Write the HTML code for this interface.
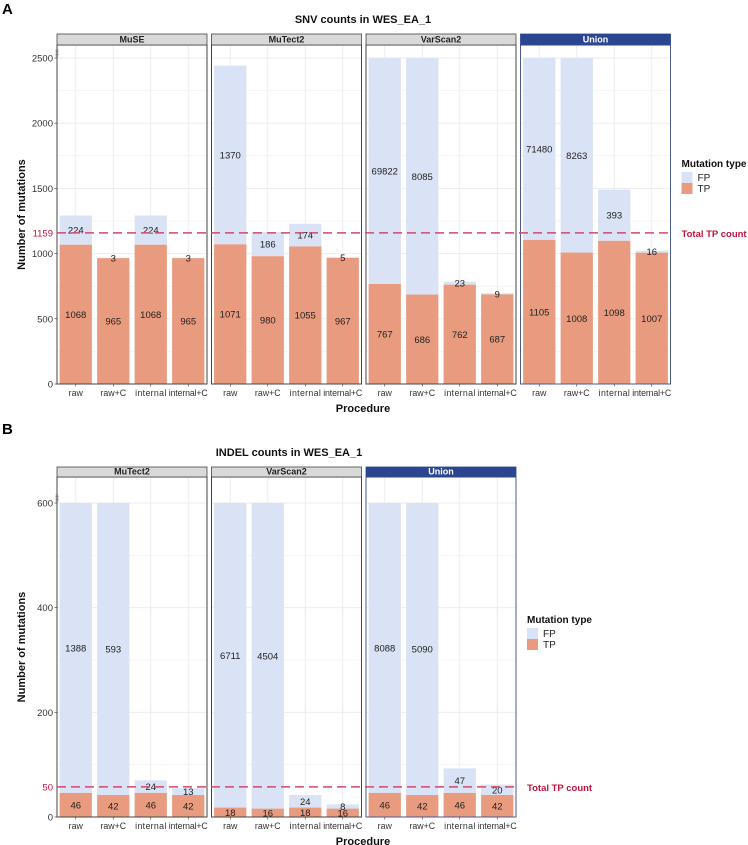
<!DOCTYPE html>
<html><head><meta charset="utf-8">
<style>
html,body{margin:0;padding:0;background:#fff;}
svg{display:block;font-family:"Liberation Sans",Arial,sans-serif;}
</style></head>
<body>
<svg id="fig" width="748" height="845" viewBox="0 0 748 845"></svg>
<script>
const procedures = ['raw','raw+C','internal','internal+C'];
const snvPanels = ['MuSE','MuTect2','VarScan2','Union'];
const snvTP = [[1068,965,1068,965],[1071,980,1055,967],[767,686,762,687],[1105,1008,1098,1007]];
const snvFP = [[224,3,224,3],[1370,186,174,5],[69822,8085,23,9],[71480,8263,393,16]];
const snvTicks = [0,500,1000,1500,2000,2500];
const snvTotalTP = 1159;
const indelPanels = ['MuTect2','VarScan2','Union'];
const indelTP = [[46,42,46,42],[18,16,18,16],[46,42,46,42]];
const indelFP = [[1388,593,24,13],[6711,4504,24,8],[8088,5090,47,20]];
const indelTicks = [0,200,400,600];
const indelTotalTP = 50;

const NS='http://www.w3.org/2000/svg';
const svg=document.getElementById('fig');
function mk(tag,attrs,parent,text){
  const e=document.createElementNS(NS,tag);
  for(const k in attrs)e.setAttribute(k,attrs[k]);
  if(text!==undefined)e.textContent=text;
  (parent||svg).appendChild(e);return e;
}

function drawChart(o){
  const g=mk('g',{});
  
  
  const yScale=v=>o.y0-(Math.min(v,o.cap))*(o.y0-o.yCap)/o.cap;
  const L=mk('text',{x:2,y:o.letterY,'font-size':15,'font-weight':'bold',fill:'#000'},g,o.letter);
  
  const T=mk('text',{x:o.titleX,y:o.titleY,'font-size':11,'font-weight':'bold','text-anchor':'middle',fill:'#111'},g,o.title);
  
  const pw=150,gap=4.5;
  o.panels.forEach((pn,pi)=>{
    const px=o.x0+pi*(pw+gap);
    const pg=mk('g',{},g);
    
    
    const isU=pn==='Union';
    const minor=o.ticks[1]/2;
    for(let v=0;v<=o.cap+0.1;v+=minor){
      mk('line',{x1:px,x2:px+pw,y1:yScale(v),y2:yScale(v),stroke:'#ebebeb','stroke-width':(v%o.ticks[1]===0)?0.9:0.5},pg);
    }
    const cw=pw/4;
    procedures.forEach((pr,ci)=>{
      const cx=px+cw*ci+cw/2;
      mk('line',{x1:cx,x2:cx,y1:o.stripB,y2:o.y0,stroke:'#ebebeb','stroke-width':0.9},pg);
    });
    procedures.forEach((pr,ci)=>{
      const cx=px+cw*ci+cw/2, bw=cw*0.86;
      const tp=o.tp[pi][ci], fp=o.fp[pi][ci];
      const yT=yScale(tp), yF=yScale(tp+fp);
      const rf=mk('rect',{x:cx-bw/2,y:yF,width:bw,height:yT-yF,fill:'#dae3f5'},pg);
      
      
      const rt=mk('rect',{x:cx-bw/2,y:yT,width:bw,height:o.y0-yT,fill:'#e89b7e'},pg);
      
      
      const lf=mk('text',{x:cx,y:(yT+yF)/2+3.5,'font-size':9.5,'text-anchor':'middle',fill:'#222'},pg,fp);
      
      const lt=mk('text',{x:cx,y:(yT+o.y0)/2+3.5,'font-size':9.5,'text-anchor':'middle',fill:'#222'},pg,tp);
      
      const xt=mk('text',{x:cx,y:o.y0+12,'font-size':8.8,'text-anchor':'middle',fill:'#333'},pg,pr);
      if(pr.length>5)xt.setAttribute('textLength',pr.length*3.9);
      
      mk('line',{x1:cx,x2:cx,y1:o.y0,y2:o.y0+2.5,stroke:'#333','stroke-width':0.6},pg);
    });
    const bc=isU?'#4a5a8f':'#444';
    mk('rect',{x:px,y:o.stripB,width:pw,height:o.y0-o.stripB,fill:'none',stroke:bc,'stroke-width':1},pg);
    const st=mk('rect',{x:px,y:o.stripT,width:pw,height:o.stripB-o.stripT,fill:isU?'#2c4591':'#d9d9d9',stroke:isU?'#2c4591':'#444','stroke-width':0.8},pg);
    
    const sl=mk('text',{x:px+pw/2,y:o.stripB-2.5,'font-size':9,'font-weight':'bold','text-anchor':'middle',fill:isU?'#fff':'#222'},pg,pn);
    
  });
  const xEnd=o.x0+o.panels.length*(pw+gap)-gap;
  o.ticks.forEach(v=>{
    const t=mk('text',{x:o.x0-4,y:yScale(v)+3.5,'font-size':9.5,'text-anchor':'end',fill:'#333'},g,v);
    
    mk('line',{x1:o.x0-2.5,x2:o.x0,y1:yScale(v),y2:yScale(v),stroke:'#333','stroke-width':0.6},g);
  });
  for(let i=0;i<5;i++)mk('line',{x1:o.x0-1.5,x2:o.x0+1.5,y1:o.yCap-8+i*1.5,y2:o.yCap-8+i*1.5,stroke:'#555','stroke-width':0.5},g);
  const yl=yScale(o.total)-o.lineShift;
  const dl=mk('line',{x1:o.x0,x2:xEnd,y1:yl,y2:yl,stroke:'#d2486a','stroke-width':1.5,'stroke-dasharray':'9,5'},g);
  
  const tl=mk('text',{x:o.x0-4,y:yl+3.5,'font-size':9.5,'text-anchor':'end',fill:'#c0143c'},g,o.total);
  
  const tt=mk('text',{x:xEnd+11,y:yl+4,'font-size':9.5,'font-weight':'bold',fill:'#c0143c'},g,'Total TP count');
  
  const ya=mk('text',{x:0,y:0,'font-size':11,'font-weight':'bold','text-anchor':'middle',fill:'#111',transform:`translate(25,${(o.stripB+o.y0)/2}) rotate(-90)`},g,'Number of mutations');
  
  const xa=mk('text',{x:363,y:o.y0+28,'font-size':11,'font-weight':'bold','text-anchor':'middle',fill:'#111'},g,'Procedure');
  
  const lg=mk('g',{},g);
  
  mk('text',{x:xEnd+11,y:o.legY,'font-size':10,'font-weight':'bold',fill:'#111'},lg,'Mutation type');
  const e1=mk('rect',{x:xEnd+11,y:o.legY+5,width:11,height:11,fill:'#dae3f5'},lg);
  
  mk('text',{x:xEnd+27,y:o.legY+14,'font-size':10,fill:'#222'},lg,'FP');
  const e2=mk('rect',{x:xEnd+11,y:o.legY+16,width:11,height:11,fill:'#e89b7e'},lg);
  
  mk('text',{x:xEnd+27,y:o.legY+25,'font-size':10,fill:'#222'},lg,'TP');
}

drawChart({name:'snv-chart',letter:'A',letterY:14,title:'SNV counts in WES_EA_1',titleX:363,titleY:23,
  panels:snvPanels,tp:snvTP,fp:snvFP,ticks:snvTicks,total:snvTotalTP,cap:2500,lineShift:0,
  x0:57,y0:384,yCap:58,stripT:34,stripB:45,legY:167});
drawChart({name:'indel-chart',letter:'B',letterY:434,title:'INDEL counts in WES_EA_1',titleX:289,titleY:456,
  panels:indelPanels,tp:indelTP,fp:indelFP,ticks:indelTicks,total:indelTotalTP,cap:600,lineShift:4,
  x0:57,y0:817,yCap:503,stripT:467,stripB:477,legY:623});
</script>
</body></html>
